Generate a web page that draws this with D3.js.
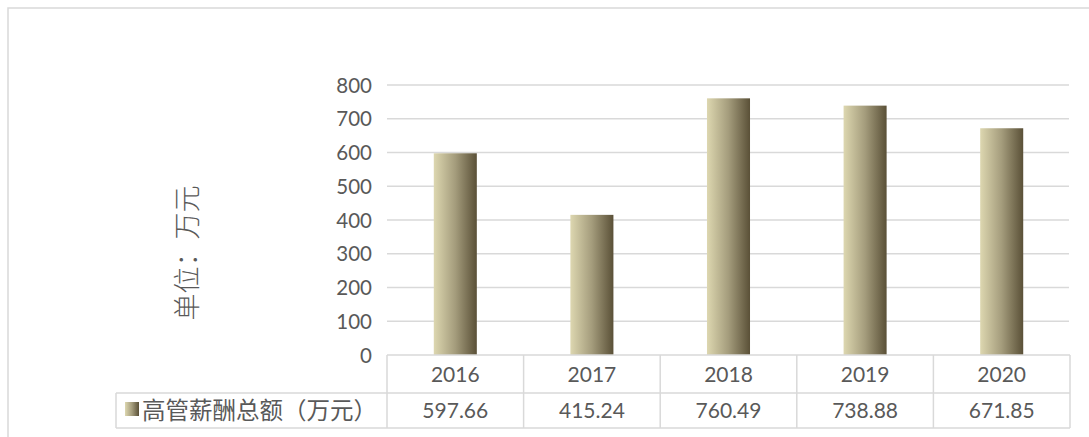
<!DOCTYPE html>
<html>
<head>
<meta charset="utf-8">
<script src="https://cdn.jsdelivr.net/npm/d3@7"></script>
<style>
  html, body { margin: 0; padding: 0; background: #fff; }
  svg { display: block; }
  .num { font-family: Lato, "Open Sans", sans-serif; fill: #595959; }
  .cjk { font-family: "Noto Sans CJK SC", sans-serif; fill: #595959; }
</style>
</head>
<body>
<div id="chart"></div>
<script>
// chart data
var years = ["2016", "2017", "2018", "2019", "2020"];
var pay = [597.66, 415.24, 760.49, 738.88, 671.85];
var payLabels = ["597.66", "415.24", "760.49", "738.88", "671.85"];
var yTicks = [0, 100, 200, 300, 400, 500, 600, 700, 800];
var seriesName = "高管薪酬总额（万元）";
var axisTitle = "单位：万元";

var width = 1089, height = 437;
var gridColor = "#d9d9d9";

var svg = d3.select("#chart").append("svg")
    .attr("width", width)
    .attr("height", height);

// bar gradient, light on the left, dark on the right
var defs = svg.append("defs");
var grad = defs.append("linearGradient")
    .attr("id", "barGrad")
    .attr("x1", "0%").attr("x2", "100%")
    .attr("y1", "0%").attr("y2", "0%");
grad.append("stop").attr("offset", "0%").attr("stop-color", "#ddd7b0");
grad.append("stop").attr("offset", "50%").attr("stop-color", "#a49c7c");
grad.append("stop").attr("offset", "100%").attr("stop-color", "#5a5037");

// outer frame
svg.append("rect")
    .attr("x", 8).attr("y", 8)
    .attr("width", width + 10).attr("height", height + 10)
    .attr("fill", "none")
    .attr("stroke", "#d9d9d9")
    .attr("stroke-width", 1.5);

var x = d3.scaleBand()
    .domain(years)
    .range([387, 1070])
    .padding(0);

var y = d3.scaleLinear()
    .domain([0, 800])
    .range([355, 85]);

// gridlines
svg.append("g")
    .selectAll("line")
    .data(yTicks.filter(function (d) { return d > 0; }))
    .enter().append("line")
    .attr("x1", 387).attr("x2", 1069)
    .attr("y1", function (d) { return y(d); })
    .attr("y2", function (d) { return y(d); })
    .attr("stroke", gridColor)
    .attr("stroke-width", 1.5);

// y axis labels
var yAxis = d3.axisLeft(y).tickValues(yTicks).tickSize(0).tickPadding(15);
var yg = svg.append("g")
    .attr("transform", "translate(387,0)")
    .call(yAxis);
yg.select(".domain").remove();
yg.selectAll("text")
    .attr("class", "num")
    .attr("font-size", "20.5px")
    .attr("dy", "0.35em");

// bars
var barW = x.bandwidth() * 0.315;
svg.append("g")
    .selectAll("rect")
    .data(pay)
    .enter().append("rect")
    .attr("x", function (d, i) { return x(years[i]) + (x.bandwidth() - barW) / 2; })
    .attr("y", function (d) { return y(d); })
    .attr("width", barW)
    .attr("height", function (d) { return y(0) - y(d); })
    .attr("fill", "url(#barGrad)");

// axis title
svg.append("text")
    .attr("class", "cjk")
    .attr("transform", "translate(197,253) rotate(-90)")
    .attr("text-anchor", "middle")
    .attr("font-size", "27px")
    .attr("font-weight", 300)
    .text(axisTitle);

// data table
var rowTop = 355, rowMid = 393, rowBot = 428, legendLeft = 116;
var table = svg.append("g")
    .attr("stroke", gridColor)
    .attr("stroke-width", 1.5)
    .attr("fill", "none");

table.append("line").attr("x1", 387).attr("x2", 1070).attr("y1", rowTop).attr("y2", rowTop);
table.append("line").attr("x1", legendLeft).attr("x2", 1070).attr("y1", rowMid).attr("y2", rowMid);
table.append("line").attr("x1", legendLeft).attr("x2", 1070).attr("y1", rowBot).attr("y2", rowBot);
table.append("line").attr("x1", legendLeft).attr("x2", legendLeft).attr("y1", rowMid).attr("y2", rowBot);

var edges = years.map(function (d) { return x(d); }).concat([x.range()[1]]);
table.selectAll("line.col")
    .data(edges)
    .enter().append("line")
    .attr("class", "col")
    .attr("x1", function (d) { return d; })
    .attr("x2", function (d) { return d; })
    .attr("y1", rowTop)
    .attr("y2", rowBot);

svg.append("g")
    .selectAll("text")
    .data(years)
    .enter().append("text")
    .attr("class", "num")
    .attr("font-size", "21px")
    .attr("text-anchor", "middle")
    .attr("x", function (d) { return x(d) + x.bandwidth() / 2; })
    .attr("y", (rowTop + rowMid) / 2)
    .attr("dy", "0.36em")
    .text(function (d) { return d; });

svg.append("g")
    .selectAll("text")
    .data(payLabels)
    .enter().append("text")
    .attr("class", "num")
    .attr("font-size", "21px")
    .attr("text-anchor", "middle")
    .attr("x", function (d, i) { return x(years[i]) + x.bandwidth() / 2; })
    .attr("y", (rowMid + rowBot) / 2)
    .attr("dy", "0.36em")
    .text(function (d) { return d; });

// legend key and series name
svg.append("rect")
    .attr("x", 125).attr("y", 402)
    .attr("width", 14).attr("height", 14)
    .attr("fill", "url(#barGrad)");

svg.append("text")
    .attr("class", "cjk")
    .attr("x", 142)
    .attr("y", (rowMid + rowBot) / 2)
    .attr("dy", "0.36em")
    .attr("font-size", "23.5px")
    .text(seriesName);
</script>
</body>
</html>
